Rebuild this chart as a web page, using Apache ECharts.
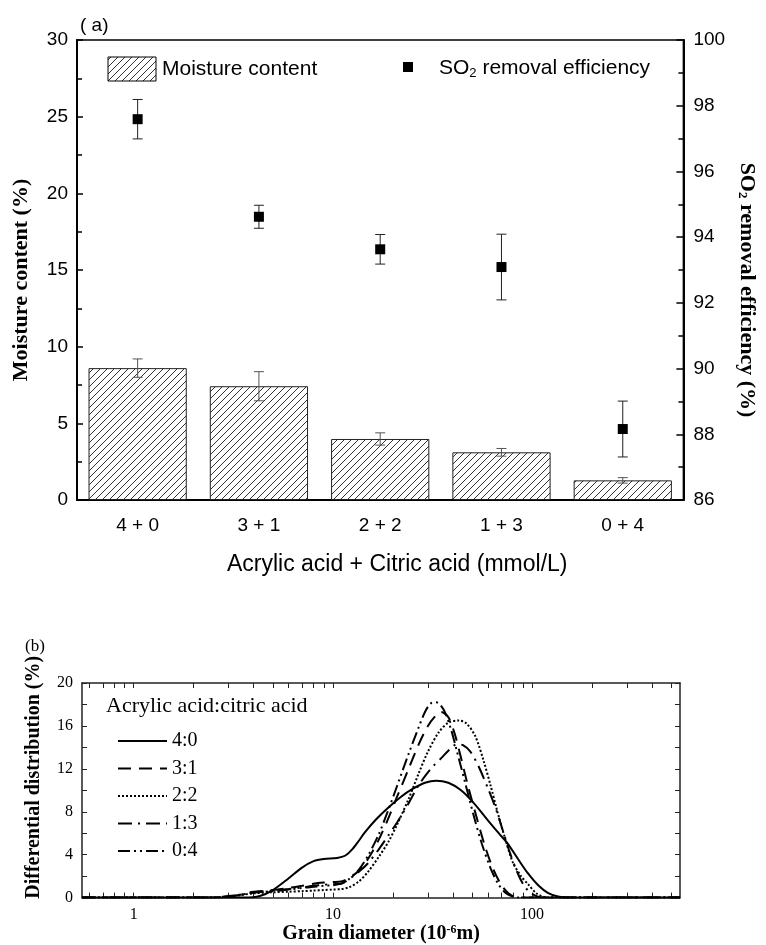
<!DOCTYPE html>
<html><head><meta charset="utf-8">
<script src="https://cdn.jsdelivr.net/npm/echarts@6/dist/echarts.min.js"></script>
<style>html,body{margin:0;padding:0;background:#fff}#c{width:766px;height:945px}</style>
</head><body><div id="c"></div>
<script>
// ---------- Panel (a) data ----------
const categories = ['4 + 0', '3 + 1', '2 + 2', '1 + 3', '0 + 4'];
const moisture = [8.6, 7.42, 3.98, 3.11, 1.28];
const moistureErr = [0.6, 0.95, 0.4, 0.25, 0.18];
const so2Eff = [97.59, 94.62, 93.63, 93.09, 88.16];
const so2Err = [0.6, 0.35, 0.45, 1.0, 0.85];

// ---------- Panel (b) data ----------
const d40 = [0.55, 3.6, 4.3, 5, 6, 7, 8, 9, 10.5, 11.5, 12.5, 13.5, 14.5, 16.5, 19, 22, 25, 29, 33, 38, 44, 51, 60, 68, 75, 85, 95, 108, 120, 135, 150, 553];
const v40 = [0, 0, 0.15, 0.7, 1.8, 2.8, 3.4, 3.6, 3.7, 3.9, 4.5, 5.3, 6.1, 7.3, 8.4, 9.4, 10.1, 10.7, 10.9, 10.7, 10.0, 8.8, 7.2, 6.0, 5.1, 3.6, 2.3, 1.1, 0.45, 0.1, 0, 0];
const d31 = [0.55, 2.5, 3, 3.5, 4, 5, 6, 7, 8, 9, 10, 11, 12, 13.5, 15, 17, 19, 21, 24, 27, 30, 33, 35, 38, 41, 44, 48, 53, 58, 64, 70, 76, 82, 88, 553];
const v31 = [0, 0, 0.1, 0.3, 0.55, 0.7, 0.9, 1.1, 1.3, 1.4, 1.45, 1.5, 1.8, 2.5, 3.6, 5.4, 7.4, 9.4, 12.0, 14.3, 16.0, 17.0, 17.3, 16.8, 15.2, 13.0, 10.2, 7.3, 4.8, 2.6, 1.2, 0.4, 0.05, 0, 0];
const d22 = [0.55, 2.5, 3, 3.5, 4, 5, 6, 7, 8, 9, 10, 11, 12, 13.5, 15, 17, 19, 21, 24, 27, 30, 34, 38, 43, 47, 52, 57, 62, 67, 73, 80, 88, 96, 105, 115, 125, 553];
const v22 = [0, 0, 0.1, 0.25, 0.4, 0.5, 0.55, 0.6, 0.65, 0.7, 0.75, 0.8, 0.95, 1.5, 2.4, 3.8, 5.2, 6.8, 9.2, 11.6, 13.6, 15.4, 16.3, 16.5, 16.2, 15.0, 12.8, 10.4, 8.0, 5.6, 3.3, 2.0, 1.2, 0.4, 0.05, 0, 0];
const d13 = [0.55, 2.5, 3, 3.5, 4, 5, 6, 7, 8, 9, 10, 11, 12, 13.5, 15, 17, 19, 21, 24, 27, 31, 35, 39, 42, 45, 49, 54, 60, 66, 72, 78, 85, 92, 100, 108, 115, 553];
const v13 = [0, 0, 0.1, 0.3, 0.5, 0.65, 0.8, 0.95, 1.1, 1.2, 1.25, 1.3, 1.7, 2.4, 3.2, 4.5, 5.8, 7.0, 8.8, 10.5, 12.0, 13.0, 13.9, 14.3, 14.2, 13.6, 12.2, 10.2, 8.2, 6.0, 4.0, 2.2, 1.0, 0.35, 0.05, 0, 0];
const d04 = [0.55, 2.5, 3, 3.5, 4, 5, 6, 7, 8, 9, 10, 11, 12, 13.5, 15, 17, 19, 21, 24, 27, 29, 31, 33, 36, 39, 42, 46, 51, 56, 62, 68, 74, 80, 86, 553];
const v04 = [0, 0, 0.15, 0.3, 0.45, 0.6, 0.75, 0.9, 1.0, 1.1, 1.15, 1.3, 1.7, 2.6, 3.9, 5.9, 8.2, 10.4, 13.4, 15.9, 17.3, 18.1, 18.2, 17.5, 15.8, 13.6, 10.8, 7.6, 5.0, 2.7, 1.2, 0.4, 0.1, 0, 0];

const xLabelValues = [1, 10, 100];
const xTickValues = [0.6, 0.7, 0.8, 0.9, 1, 2, 3, 4, 5, 6, 7, 8, 9, 10, 20, 30, 40, 50, 60, 70, 80, 90, 100, 200, 300, 400, 500];
const xMin = 0.55, xMax = 553;

const SANS = 'Liberation Sans', SERIF = 'Liberation Serif';

function hatchCanvas() {
  const s = 7;
  const c = document.createElement('canvas');
  c.width = s; c.height = s;
  const g = c.getContext('2d');
  g.fillStyle = '#fff'; g.fillRect(0, 0, s, s);
  g.strokeStyle = '#333'; g.lineWidth = 1;
  g.beginPath();
  g.moveTo(-1, s + 1); g.lineTo(s + 1, -1);
  g.moveTo(-1, 1); g.lineTo(1, -1);
  g.moveTo(s - 1, s + 1); g.lineTo(s + 1, s - 1);
  g.stroke();
  return c;
}
const hatch = { image: hatchCanvas(), repeat: 'repeat' };

function errRender(color) {
  return function (params, api) {
    const i = api.value(0);
    const lo = api.coord([i, api.value(1)]);
    const hi = api.coord([i, api.value(2)]);
    const w = 5;
    const st = { stroke: color, lineWidth: 1 };
    return { type: 'group', children: [
      { type: 'line', shape: { x1: lo[0], y1: lo[1], x2: hi[0], y2: hi[1] }, style: st },
      { type: 'line', shape: { x1: lo[0] - w, y1: lo[1], x2: lo[0] + w, y2: lo[1] }, style: st },
      { type: 'line', shape: { x1: hi[0] - w, y1: hi[1], x2: hi[0] + w, y2: hi[1] }, style: st }
    ] };
  };
}

const lineDefs = [
  { name: '4:0', d: d40, v: v40, type: 'solid' },
  { name: '3:1', d: d31, v: v31, type: [13, 8] },
  { name: '2:2', d: d22, v: v22, type: [2, 2] },
  { name: '1:3', d: d13, v: v13, type: [14, 6, 2, 6] },
  { name: '0:4', d: d04, v: v04, type: [12, 4, 2, 4, 2, 4] }
];

const chart = echarts.init(document.getElementById('c'), null, { renderer: 'canvas' });

const option = {
  animation: false,
  backgroundColor: '#fff',
  grid: [
    { left: 77, right: 70, top: 40, bottom: 445, show: true, borderColor: '#000', borderWidth: 1.5, backgroundColor: 'transparent' },
    { left: 82, right: 86, top: 683, bottom: 46 }
  ],
  legend: {
    data: lineDefs.map(l => l.name),
    orient: 'vertical', left: 112, top: 726,
    itemWidth: 49, itemHeight: 14, itemGap: 7.5,
    itemStyle: { opacity: 0 },
    textStyle: { fontFamily: SERIF, fontSize: 20, color: '#000' },
    selectedMode: false
  },
  xAxis: [
    { gridIndex: 0, type: 'category', data: categories, position: 'bottom',
      axisLine: { onZero: false, lineStyle: { color: '#000', width: 2 } },
      axisTick: { inside: true, alignWithLabel: true, length: 8, lineStyle: { color: '#000', width: 1.5 } },
      axisLabel: { fontFamily: SANS, fontSize: 19, color: '#000', margin: 16 },
      name: 'Acrylic acid + Citric acid (mmol/L)', nameLocation: 'middle', nameGap: 53,
      nameTextStyle: { fontFamily: SANS, fontSize: 23, color: '#000', padding: [0, 0, 0, 34] } },
    { gridIndex: 0, type: 'category', data: categories, position: 'bottom',
      axisLine: { show: false, onZero: false },
      axisTick: { inside: true, length: 4, lineStyle: { color: '#000', width: 1.5 } },
      axisLabel: { show: false } },
    { gridIndex: 1, type: 'log', logBase: 10, min: xMin, max: xMax,
      axisLine: { show: false, onZero: false }, axisTick: { show: false }, axisLabel: { show: false }, splitLine: { show: false } },
    { gridIndex: 1, type: 'value', position: 'bottom', min: Math.log10(xMin), max: Math.log10(xMax),
      axisLine: { onZero: false, lineStyle: { color: '#222', width: 1.5 } },
      axisTick: { inside: true, length: 5, customValues: xTickValues.map(v => Math.log10(v)), lineStyle: { color: '#222', width: 1 } },
      axisLabel: { customValues: xLabelValues.map(v => Math.log10(v)), formatter: v => String(Math.round(Math.pow(10, v))),
        fontFamily: SERIF, fontSize: 16, color: '#000', margin: 9 },
      splitLine: { show: false },
      name: '{b|Grain diameter (10}{sup|-6}{b|m)}', nameLocation: 'middle', nameGap: 24,
      nameTextStyle: { rich: {
        b: { fontFamily: SERIF, fontWeight: 'bold', fontSize: 20, color: '#000' },
        sup: { fontFamily: SERIF, fontWeight: 'bold', fontSize: 12, color: '#000', padding: [0, 0, 9, 0] } } } },
    { gridIndex: 1, type: 'value', position: 'top', min: Math.log10(xMin), max: Math.log10(xMax),
      axisLine: { onZero: false, lineStyle: { color: '#222', width: 1.5 } },
      axisTick: { inside: true, length: 5, customValues: xTickValues.map(v => Math.log10(v)), lineStyle: { color: '#222', width: 1 } },
      axisLabel: { show: false }, splitLine: { show: false } }
  ],
  yAxis: [
    { gridIndex: 0, type: 'value', position: 'left', min: 0, max: 30, interval: 5,
      axisLine: { show: true, onZero: false, lineStyle: { color: '#000', width: 2 } },
      axisTick: { show: true, inside: true, length: 6, lineStyle: { color: '#000', width: 1.5 } },
      minorTick: { show: true, splitNumber: 2, length: 5, lineStyle: { color: '#000', width: 1.5 } },
      axisLabel: { fontFamily: SANS, fontSize: 19, color: '#000', margin: 9 },
      splitLine: { show: false },
      name: 'Moisture content (%)', nameLocation: 'middle', nameRotate: 90, nameGap: 45,
      nameTextStyle: { fontFamily: SERIF, fontWeight: 'bold', fontSize: 22, color: '#000', padding: [0, 20, 0, 0] } },
    { gridIndex: 0, type: 'value', position: 'right', min: 86, max: 100, interval: 2,
      axisLine: { show: true, onZero: false, lineStyle: { color: '#000', width: 2 } },
      axisTick: { show: true, inside: true, length: 7, lineStyle: { color: '#000', width: 1.5 } },
      minorTick: { show: true, splitNumber: 2, length: 5, lineStyle: { color: '#000', width: 1.5 } },
      axisLabel: { fontFamily: SANS, fontSize: 19, color: '#000', margin: 10 },
      splitLine: { show: false },
      name: '{b|SO}{sub|2}{b| removal efficiency (%)}', nameLocation: 'middle', nameRotate: -90, nameGap: 46,
      nameTextStyle: { padding: [0, 0, 0, 40], rich: {
        b: { fontFamily: SERIF, fontWeight: 'bold', fontSize: 22, color: '#000' },
        sub: { fontFamily: SERIF, fontWeight: 'bold', fontSize: 13, color: '#000', padding: [9, 0, 0, 0] } } } },
    { gridIndex: 1, type: 'value', position: 'left', min: 0, max: 20, interval: 4,
      axisLine: { show: true, onZero: false, lineStyle: { color: '#222', width: 1.5 } },
      axisTick: { show: true, inside: true, length: 5, lineStyle: { color: '#222', width: 1 } },
      minorTick: { show: true, splitNumber: 2, length: 5, lineStyle: { color: '#222', width: 1 } },
      axisLabel: { fontFamily: SERIF, fontSize: 16, color: '#000', margin: 9 },
      splitLine: { show: false },
      name: 'Differential distribution (%)', nameLocation: 'middle', nameRotate: 90, nameGap: 38,
      nameTextStyle: { fontFamily: SERIF, fontWeight: 'bold', fontSize: 20, color: '#000', padding: [0, 0, 0, 26] } },
    { gridIndex: 1, type: 'value', position: 'right', min: 0, max: 20, interval: 2,
      axisLine: { show: true, onZero: false, lineStyle: { color: '#222', width: 1.5 } },
      axisTick: { show: true, inside: true, length: 5, lineStyle: { color: '#222', width: 1 } },
      axisLabel: { show: false }, splitLine: { show: false } }
  ],
  graphic: [
    { type: 'text', left: 80, top: 16, style: { text: '( a)', fontFamily: SANS, fontSize: 19, fill: '#000' } },
    { type: 'rect', shape: { x: 108, y: 57, width: 48, height: 24 }, style: { fill: hatch, stroke: '#000', lineWidth: 1 } },
    { type: 'text', x: 162, y: 69, style: { text: 'Moisture content', fontFamily: SANS, fontSize: 21, fill: '#000', verticalAlign: 'middle' } },
    { type: 'rect', shape: { x: 403, y: 62, width: 10, height: 10 }, style: { fill: '#000' } },
    { type: 'text', x: 439, y: 68, style: { text: '{n|SO}{s|2}{n| removal efficiency}', verticalAlign: 'middle',
      rich: { n: { fontFamily: SANS, fontSize: 21, fill: '#000', color: '#000' },
              s: { fontFamily: SANS, fontSize: 13, fill: '#000', color: '#000', padding: [11, 0, 0, 0] } } } },
    { type: 'text', left: 25, top: 638, style: { text: '(b)', fontFamily: SERIF, fontSize: 17, fill: '#000' } },
    { type: 'text', x: 106, y: 706, style: { text: 'Acrylic acid:citric acid', fontFamily: SERIF, fontSize: 22, fill: '#000', verticalAlign: 'middle' } }
  ],
  series: [
    { name: 'Moisture content', type: 'bar', xAxisIndex: 0, yAxisIndex: 0, data: moisture, barWidth: '81%',
      itemStyle: { color: hatch, borderColor: '#222', borderWidth: 1 }, z: 2 },
    { name: 'moistErr', type: 'custom', xAxisIndex: 0, yAxisIndex: 0,
      data: moisture.map((v, i) => [i, v - moistureErr[i], v + moistureErr[i]]),
      renderItem: errRender('#555'), z: 3 },
    { name: 'so2Err', type: 'custom', xAxisIndex: 0, yAxisIndex: 1,
      data: so2Eff.map((v, i) => [i, v - so2Err[i], v + so2Err[i]]),
      renderItem: errRender('#222'), z: 3 },
    { name: 'SO2 removal efficiency', type: 'scatter', xAxisIndex: 0, yAxisIndex: 1, data: so2Eff,
      symbol: 'rect', symbolSize: 10, itemStyle: { color: '#000', opacity: 1 }, z: 4 }
  ].concat(lineDefs.map(l => ({
    name: l.name, type: 'line', xAxisIndex: 2, yAxisIndex: 2,
    data: l.d.map((d, i) => [d, l.v[i]]),
    showSymbol: false, symbol: 'none', smooth: 0.3,
    lineStyle: { color: '#000', width: 2, type: l.type },
    itemStyle: { color: '#000' }
  })))
};
chart.setOption(option);
</script>
</body></html>
